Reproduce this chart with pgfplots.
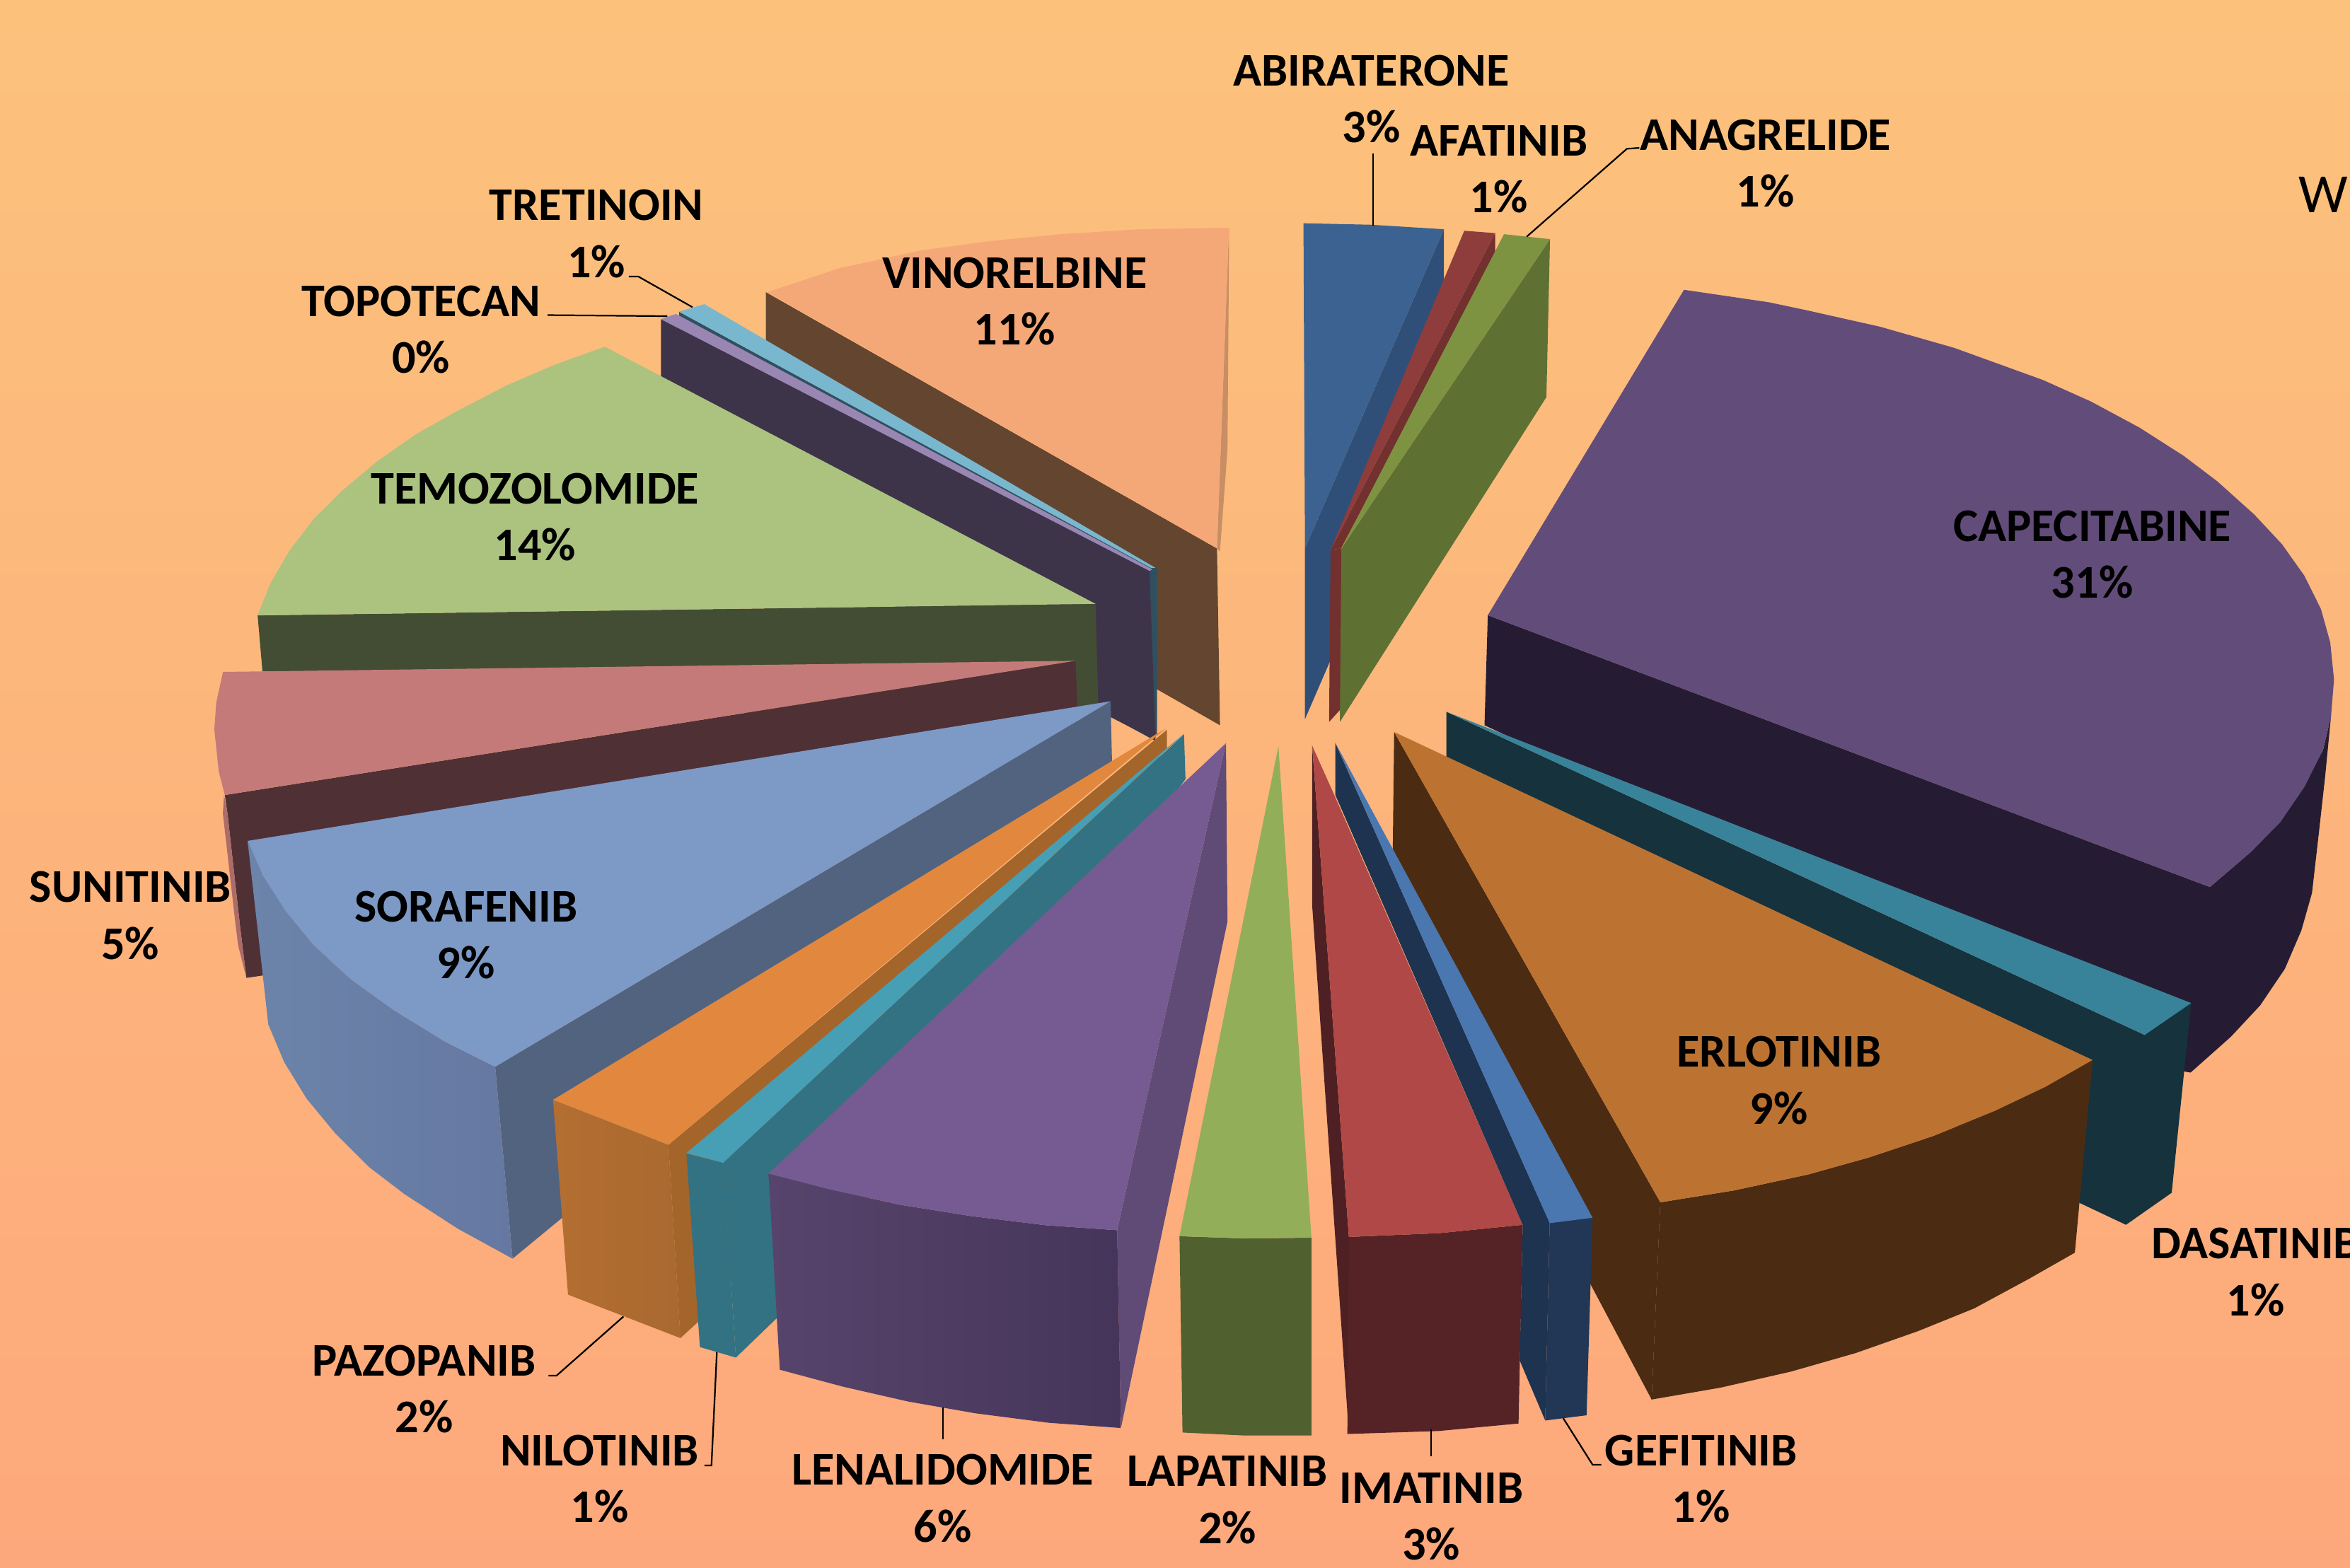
\documentclass[border=0pt]{standalone}
\usepackage{fontspec}
\setmainfont{Carlito}
\usepackage{pgfplots}
\pgfplotsset{compat=1.18}
\definecolor{bgtop}{RGB}{252,194,124}
\definecolor{bgbot}{RGB}{253,168,124}
\definecolor{vinT}{RGB}{245,168,119}
\definecolor{vinS}{RGB}{99,69,48}
\definecolor{vinE}{RGB}{200,142,100}
\definecolor{treT}{RGB}{121,183,207}
\definecolor{treS}{RGB}{47,80,96}
\definecolor{topT}{RGB}{154,134,178}
\definecolor{topS}{RGB}{62,52,74}
\definecolor{temT}{RGB}{171,195,127}
\definecolor{temS}{RGB}{67,77,51}
\definecolor{sunT}{RGB}{196,122,120}
\definecolor{sunS}{RGB}{79,48,52}
\definecolor{sunE}{RGB}{172,108,106}
\definecolor{sorT}{RGB}{125,153,197}
\definecolor{sorS}{RGB}{81,99,127}
\definecolor{sorA}{RGB}{108,132,170}
\definecolor{sorB}{RGB}{101,120,161}
\definecolor{pazT}{RGB}{225,136,62}
\definecolor{pazS}{RGB}{164,101,43}
\definecolor{pazA}{RGB}{180,110,49}
\definecolor{pazB}{RGB}{169,105,48}
\definecolor{nilT}{RGB}{71,159,182}
\definecolor{nilS}{RGB}{51,114,131}
\definecolor{lenT}{RGB}{117,91,145}
\definecolor{lenS}{RGB}{95,75,118}
\definecolor{lenA}{RGB}{87,68,108}
\definecolor{lenB}{RGB}{70,53,90}
\definecolor{lapT}{RGB}{147,174,88}
\definecolor{lapS}{RGB}{80,96,46}
\definecolor{imaT}{RGB}{175,72,70}
\definecolor{imaS}{RGB}{85,35,37}
\definecolor{imaE}{RGB}{78,32,35}
\definecolor{gefT}{RGB}{74,119,176}
\definecolor{gefS}{RGB}{29,51,80}
\definecolor{gefF}{RGB}{33,55,85}
\definecolor{erlT}{RGB}{188,115,50}
\definecolor{erlS}{RGB}{75,44,19}
\definecolor{dasT}{RGB}{57,131,154}
\definecolor{dasS}{RGB}{22,50,60}
\definecolor{capT}{RGB}{98,76,121}
\definecolor{capS}{RGB}{37,28,51}
\definecolor{abiT}{RGB}{59,98,144}
\definecolor{abiS}{RGB}{47,79,120}
\definecolor{afaT}{RGB}{143,60,60}
\definecolor{afaS}{RGB}{114,48,47}
\definecolor{anaT}{RGB}{125,147,65}
\definecolor{anaS}{RGB}{95,112,51}
\begin{document}
\begin{tikzpicture}
\clip (0,0) rectangle (15.68cm,10.46cm);
\begin{axis}[
    scale only axis, width=15.68cm, height=10.46cm,
    xmin=0, xmax=1568, ymin=0, ymax=1046, y dir=reverse,
    xtick=\empty, ytick=\empty,
    axis line style={draw=none},
    axis background/.style={top color=bgtop, bottom color=bgbot},
    lbl/.style={only marks, mark=*, mark size=0pt, draw=none, fill=none,
      point meta=explicit symbolic, nodes near coords,
      every node near coord/.append style={anchor=center, align=center, inner sep=0pt,
        black, font=\fontsize{8.9}{10.8}\selectfont\bfseries}},
    ldr/.style={black, line width=0.3pt},
]
% vinorelbine
\addplot[fill=vinS,draw=none] coordinates {(511,195)(812,366)(814,484)(511,311)} --cycle;
\addplot[fill=vinE,draw=none] coordinates {(820,152)(820,170)(819,300)(814,368)(812,366)} --cycle;
\addplot[fill=vinT,draw=none] coordinates {(512,195)(560,179)(615,167)(660,161)(705,156.5)(760,153)(820,152)(812,366)} --cycle;
% tretinoin
\addplot[fill=treS,draw=none] coordinates {(453,208)(768,379)(772,379)(772,490)(770,494)(453,320)} --cycle;
\addplot[fill=treT,draw=none] coordinates {(470,203)(453,208)(768,379)(771,379)} --cycle;
% topotecan
\addplot[fill=topS,draw=none] coordinates {(441,213)(767,381)(771,494)(441,324)} --cycle;
\addplot[fill=topT,draw=none] coordinates {(451,209.5)(441,213)(767,381)(769,380)} --cycle;
% temozolomide
\addplot[fill=temS,draw=none] coordinates {(171.9,410.7)(731,403)(733,480)(177,470)} --cycle;
\addplot[fill=temT,draw=none] coordinates {(403.5,231.4)(370,243.5)(338.5,257)(306,273.8)(278,289.5)(251.8,307.8)(229.2,326.7)(209.3,346.4)(193,367.7)(180.4,389.4)(171.9,410.7)(731,403)} --cycle;
% sunitinib
\addplot[fill=sunS,draw=none] coordinates {(150,530.6)(717.6,441)(720,500)(175.4,651)(164.4,652.6)(160.2,618.3)(151.8,542.8)} --cycle;
\addplot[fill=sunE,draw=none] coordinates {(149.5,530.6)(148.7,542.8)(157.3,618.3)(158.9,631)(164.4,652.6)(160.2,618.3)(151.8,542.8)} --cycle;
\addplot[fill=sunT,draw=none] coordinates {(717.6,441)(148.8,448.4)(144.3,468.9)(143,486.9)(146,515)(150,530.6)} --cycle;
% sorafenib
\addplot[fill=sorS,draw=none] coordinates {(330.4,711.9)(741,468)(742,510)(342,840)} --cycle;
\addplot[draw=none,left color=sorA,right color=sorB] coordinates {(165.2,561.2)(175.4,584.5)(190.4,608)(209.2,630.9)(234.4,653.7)(262.7,674.1)(297.3,695.4)(330.4,711.9)(342,840)(305.5,820)(270,797)(246.2,778.8)(223.4,756)(204.5,733.1)(189.6,708.8)(179,683.6)(175.4,651.3)} --cycle;
\addplot[fill=sorT,draw=none] coordinates {(741,468)(165.2,561.2)(175.4,584.5)(190.4,608)(209.2,630.9)(234.4,653.7)(262.7,674.1)(297.3,695.4)(330.4,711.9)} --cycle;
% pazopanib
\addplot[fill=pazS,draw=none] coordinates {(446,764)(778.6,487)(778.6,499)(466,882)(454,893)} --cycle;
\addplot[draw=none,left color=pazA,right color=pazB] coordinates {(369,734)(446,764)(454,893)(379,864)} --cycle;
\addplot[fill=pazT,draw=none] coordinates {(369,734)(446,764)(778,486)} --cycle;
% nilotinib
\addplot[fill=nilS,draw=none] coordinates {(482.5,776)(790,490)(791,520)(519,879)(491,906)} --cycle;
\addplot[fill=nilS,draw=none] coordinates {(458,770)(482.5,776)(491,906)(467,899)} --cycle;
\addplot[fill=nilT,draw=none] coordinates {(458,769.5)(482.5,776)(790,489.6)} --cycle;
% lenalidomide
\addplot[fill=lenS,draw=none] coordinates {(745.4,821)(818,496)(819,615)(747.9,953)} --cycle;
\addplot[draw=none,left color=lenA,right color=lenB] coordinates {(512.8,783.2)(553.4,793.7)(600.4,804)(647.3,811.5)(697.9,817.7)(745.4,821)(747.9,953)(699.7,949.5)(650.9,943.2)(605.8,935.3)(562.4,925.4)(520.3,914.1)} --cycle;
\addplot[fill=lenT,draw=none] coordinates {(818,496)(512.8,783.2)(553.4,793.7)(600.4,804)(647.3,811.5)(697.9,817.7)(745.4,821)} --cycle;
% lapatinib
\addplot[fill=lapS,draw=none] coordinates {(787,825)(830,826.5)(875,826)(875,958)(830,958)(789,956)} --cycle;
\addplot[fill=lapT,draw=none] coordinates {(853,498)(787,825)(830,826.5)(875,826)} --cycle;
% capecitabine
\addplot[fill=capS,draw=none] coordinates {(992.7,410.6)(1474.5,592)(1502.5,568)(1522,547.5)(1540,519)(1550,500.5)(1555.3,478)(1551.3,519)(1547.3,555)(1542.6,596)(1535.5,621)(1524.5,646.6)(1508,671)(1488.4,692)(1461.6,715.8)(1457,715)(1432,690)(990.5,484)} --cycle;
\addplot[fill=capT,draw=none] coordinates {(1123.6,193.4)(1180,201.7)(1204.7,206.9)(1254.2,218)(1303.7,232.1)(1363.1,253.6)(1395.2,268)(1427.4,285.3)(1457.1,304.3)(1479.4,321.2)(1504.1,343.4)(1522.6,363.2)(1537.5,384.2)(1548.6,406.5)(1554.8,428.8)(1557.3,453.5)(1555.3,478.3)(1549.9,500.5)(1537.5,525.3)(1521.4,548.8)(1502.5,568)(1474.5,592)(992.7,410.6)} --cycle;
% dasatinib
\addplot[fill=dasS,draw=none] coordinates {(965,475)(1431,690.7)(1462,669.4)(1449,796)(1418.5,817.4)(1388,803)(965,540)} --cycle;
\addplot[fill=dasT,draw=none] coordinates {(965,475)(1462,669.4)(1431,690.7)} --cycle;
% erlotinib
\addplot[fill=erlS,draw=none] coordinates {(930.2,488.5)(1107.8,802.4)(1102,934)(1061,856.6)(929.3,567)} --cycle;
\addplot[fill=erlS,draw=none] coordinates {(1107.8,802.4)(1156.8,794.5)(1206.5,783.8)(1247.2,772.4)(1290,758.1)(1330.7,741.5)(1364.6,725.4)(1396.2,707.4)(1384.4,836)(1353.3,853.7)(1317.2,873.2)(1279.9,888.3)(1238.1,903)(1195.2,915.3)(1147.8,926.1)(1102,934)} --cycle;
\addplot[fill=erlT,draw=none] coordinates {(930.2,488.5)(1107.8,802.4)(1156.8,794.5)(1206.5,783.8)(1247.2,772.4)(1290,758.1)(1330.7,741.5)(1364.6,725.4)(1396.2,707.4)} --cycle;
% imatinib
\addplot[fill=imaE,draw=none] coordinates {(875.5,497.6)(900,825.5)(900,957)(875.5,604)} --cycle;
\addplot[fill=imaS,draw=none] coordinates {(900,825.5)(960,823)(1016,817.4)(1013.2,950)(960,955)(899,957)} --cycle;
\addplot[fill=imaT,draw=none] coordinates {(875.5,497.6)(900,825.5)(960,823)(1016,817.4)(890,530)} --cycle;
% gefitinib
\addplot[fill=gefS,draw=none] coordinates {(891,496)(1034,816)(1031,948)(1014,908)(1016,817.4)(891,530.6)} --cycle;
\addplot[fill=gefF,draw=none] coordinates {(1034,816)(1062.6,812.7)(1058.6,944.5)(1031,948)} --cycle;
\addplot[fill=gefT,draw=none] coordinates {(891,495.8)(1034,816.3)(1062.6,812.7)} --cycle;
% abiraterone
\addplot[fill=abiS,draw=none] coordinates {(963.4,153)(870.7,366)(870.7,480)(887.8,440.4)(887.8,367.5)(963.4,189)} --cycle;
\addplot[fill=abiT,draw=none] coordinates {(869.7,149)(915,150)(963.4,153)(870.7,366)} --cycle;
% afatinib
\addplot[fill=afaS,draw=none] coordinates {(997.6,155.6)(997.6,172)(894.8,366)(887.8,367)} --cycle;
\addplot[fill=afaS,draw=none] coordinates {(887.8,367)(894.8,366)(894.8,473)(886.8,481.8)} --cycle;
\addplot[fill=afaT,draw=none] coordinates {(977,154)(997.6,155.6)(887.8,367)} --cycle;
% anagrelide
\addplot[fill=anaS,draw=none] coordinates {(1034.2,159.6)(1031.8,265)(894,481.8)(895,366)} --cycle;
\addplot[fill=anaT,draw=none] coordinates {(1003.5,156.3)(1034.2,159.6)(895,366)} --cycle;
% leader lines
\addplot[ldr] coordinates {(916,102.6)(916,150.6)};
\addplot[ldr] coordinates {(1093.8,98.7)(1085.5,99.3)(1018.6,158)};
\addplot[ldr] coordinates {(419.6,184.6)(426,184.6)(462,205)};
\addplot[ldr] coordinates {(365.4,210.3)(445.3,211)};
\addplot[ldr] coordinates {(366,918)(371.4,918)(416,878.6)};
\addplot[ldr] coordinates {(470,978)(474.7,978)(478.3,902.4)};
\addplot[ldr] coordinates {(629.2,939.2)(629.2,960.5)};
\addplot[ldr] coordinates {(955,953.7)(955,972)};
\addplot[ldr] coordinates {(1043,946.4)(1062.6,977.5)(1068.4,977.5)};
% labels
\addplot[lbl] coordinates {
  (915,66) [ABIRATERONE\\3\%]
  (1000,113) [AFATINIB\\1\%]
  (1178,109) [ANAGRELIDE\\1\%]
  (1396,370) [CAPECITABINE\\31\%]
  (1505,849) [DASATINIB\\1\%]
  (1187,721) [ERLOTINIB\\9\%]
  (1135,987) [GEFITINIB\\1\%]
  (955,1012) [IMATINIB\\3\%]
  (819,1001) [LAPATINIB\\2\%]
  (629,1000) [LENALIDOMIDE\\6\%]
  (400,987) [NILOTINIB\\1\%]
  (283,927) [PAZOPANIB\\2\%]
  (311,624) [SORAFENIB\\9\%]
  (87,611) [SUNITINIB\\5\%]
  (357,345) [TEMOZOLOMIDE\\14\%]
  (281,220) [TOPOTECAN\\0\%]
  (398,156) [TRETINOIN\\1\%]
  (677,201) [VINORELBINE\\11\%]
};
\addplot[only marks, mark=*, mark size=0pt, draw=none, fill=none,
  point meta=explicit symbolic, nodes near coords,
  every node near coord/.append style={anchor=west, inner sep=0pt, black,
    font=\fontsize{10.5}{12}\selectfont}] coordinates {(1533,130) [W]};
\end{axis}
\end{tikzpicture}
\end{document}
